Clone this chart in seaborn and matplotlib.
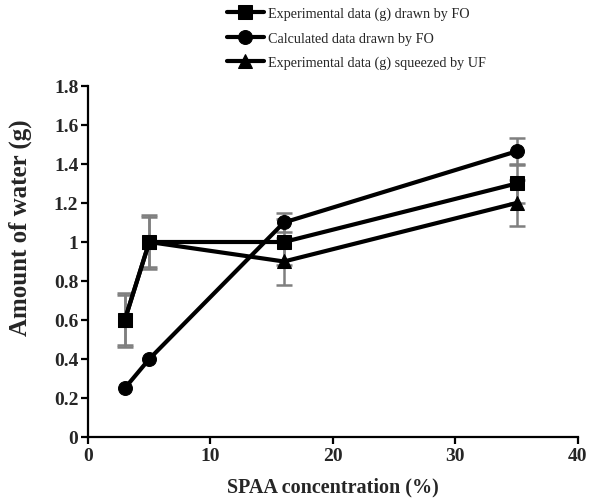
import numpy as np
import pandas as pd
import matplotlib
matplotlib.use("Agg")
import matplotlib.pyplot as plt
import seaborn as sns

# data
conc = [3, 5, 16, 35]
exp_fo = [0.6, 1.0, 1.0, 1.3]
exp_fo_err = [0.14, 0.14, 0.12, 0.10]
calc_fo = [0.25, 0.4, 1.1, 1.465]
calc_fo_err = [0.0, 0.0, 0.05, 0.07]
exp_uf = [0.6, 1.0, 0.9, 1.2]
exp_uf_err = [0.13, 0.13, 0.12, 0.12]

labels = ["Experimental data (g) drawn by FO",
          "Calculated data drawn by FO",
          "Experimental data (g) squeezed by UF"]
markers = ["s", "o", "^"]

sns.set_style("white")
plt.rcParams['font.family'] = ['Liberation Serif', 'DejaVu Serif']

fig = plt.figure(figsize=(5.95, 5.02), dpi=100)
ax = fig.add_axes([0.148, 0.1275, 0.823, 0.6992])

series = [(exp_fo, exp_fo_err), (calc_fo, calc_fo_err), (exp_uf, exp_uf_err)]
for (vals, errs), lab, mk in zip(series, labels, markers):
    df = pd.DataFrame({"x": conc, "y": vals})
    # grey error bars behind the lines
    e = np.array(errs)
    keep = e > 0
    ax.errorbar(np.array(conc)[keep], np.array(vals)[keep], yerr=e[keep],
                fmt="none", ecolor="#7f7f7f", elinewidth=1.8, capsize=6,
                capthick=1.8, zorder=1)
    sns.lineplot(data=df, x="x", y="y", ax=ax, color="black", linewidth=3,
                 marker=mk, markersize=10, markeredgecolor="black",
                 label=lab, zorder=3)

ax.set_xlim(0, 40)
ax.set_ylim(0, 1.8)
ax.set_xticks([0, 10, 20, 30, 40])
ax.set_yticks(np.arange(0, 1.81, 0.2))
ax.set_yticklabels(["0", "0.2", "0.4", "0.6", "0.8", "1", "1.2", "1.4", "1.6", "1.8"])

ax.set_xlabel("SPAA concentration (%)", fontsize=14.5, fontweight="bold", labelpad=9)
ax.set_ylabel("Amount of water (g)", fontsize=18, fontweight="bold")
ax.yaxis.set_label_coords(-0.114, 0.6)
for t in ax.get_xticklabels() + ax.get_yticklabels():
    t.set_fontweight("bold")
    t.set_fontsize(14)

sns.despine(ax=ax)
for s in ["left", "bottom"]:
    ax.spines[s].set_color("black")
    ax.spines[s].set_linewidth(1.6)
ax.tick_params(axis="both", direction="out", length=5, width=1.6, color="black",
               left=True, bottom=True, pad=2)

handles, labs = ax.get_legend_handles_labels()
ax.legend_.remove()
fig.legend(handles, labs, loc="upper left", bbox_to_anchor=(0.368, 1.0),
           frameon=False, fontsize=10.2, handlelength=2.6, handletextpad=0.3,
           labelspacing=0.8, borderaxespad=0.15)

fig.savefig("out.png", dpi=100)
